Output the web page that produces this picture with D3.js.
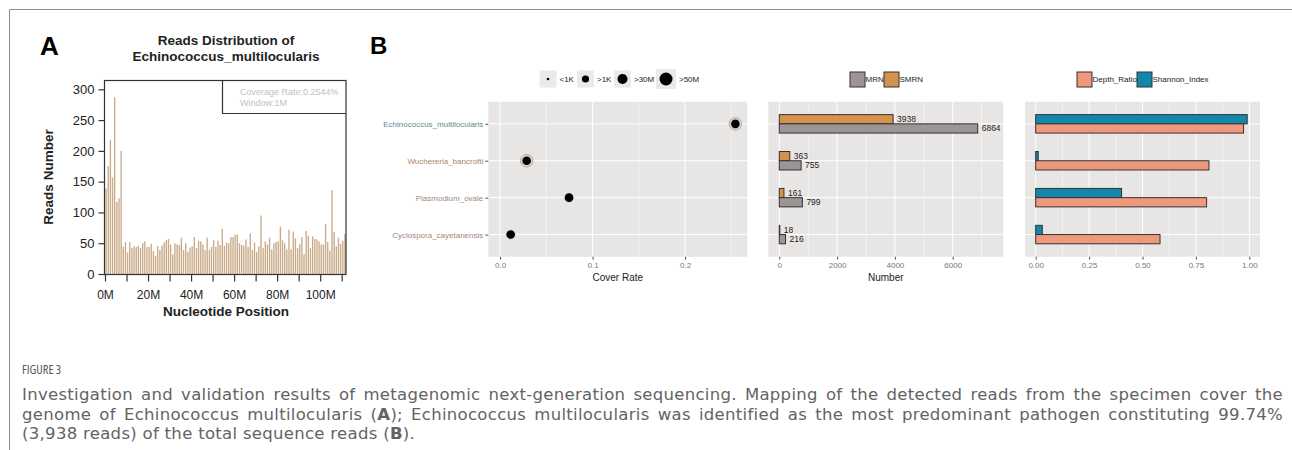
<!DOCTYPE html>
<meta charset="utf-8">
<script src="https://d3js.org/d3.v7.min.js"></script>
<style>
  body { margin: 0; background: #fff; }
  svg text { font-family: "Liberation Sans", Arial, sans-serif; }
</style>
<div id="chart"></div>
<script>

// ---------- data ----------
// panel A: reads per 1M window along the genome
const windowReads = [139,175,218,157,287,117,123,200,
  44,52,35,52,42,45,44,46,42,50,53,44,44,49,37,29,45,39,
  46,51,55,57,48,32,50,48,47,59,39,50,36,43,45,60,42,54,53,48,39,59,39,44,55,44,54,47,73,
  46,51,50,60,60,64,64,50,47,46,56,44,66,39,51,36,45,
  95,
  42,53,48,59,40,50,52,53,
  77,55,50,40,72,40,69,58,42,49,60,32,70,62,42,61,57,56,53,48,48,81,52,38,136,68,45,59,49,54,65];
const readsTicks = [0, 50, 100, 150, 200, 250, 300];
const positionTicks = [0, 10, 20, 30, 40, 50, 60, 70, 80, 90, 100, 110];
const coverageNote = ["Coverage Rate:0.2544%", "Window:1M"];

// panel B
const species = ["Echinococcus_multilocularis", "Wuchereria_bancrofti", "Plasmodium_ovale", "Cyclospora_cayetanensis"];
const speciesColor = ["#5d8c8c", "#a9876b", "#9c8a7e", "#a4887a"];
const coverRate = [0.2544, 0.0288, 0.0746, 0.0115];
const sizeLevels = ["<1K", ">1K", ">30M", ">50M"];
const mrn = [6864, 755, 799, 216];
const smrn = [3938, 363, 161, 18];
const depthRatio = [0.973, 0.811, 0.80, 0.582];
const shannonIndex = [0.99, 0.012, 0.402, 0.031];
const coverTicks = [0, 0.1, 0.2];
const numberTicks = [0, 2000, 4000, 6000];
const ratioTicks = [0, 0.25, 0.5, 0.75, 1];

const captionTitle = "FIGURE 3";
const captionLines = [
  "Investigation and validation results of metagenomic next-generation sequencing. Mapping of the detected reads from the specimen cover the",
  "genome of Echinococcus multilocularis (|A|); Echinococcus multilocularis was identified as the most predominant pathogen constituting 99.74%",
  "(3,938 reads) of the total sequence reads (|B|)."
];

// ---------- svg ----------
const svg = d3.select("#chart").append("svg")
    .attr("width", 1292).attr("height", 450);
svg.append("rect").attr("width", 1292).attr("height", 450).attr("fill", "#fff");

// figure frame
svg.append("path").attr("d", "M9.5,450V9.5H1292")
    .attr("fill", "none").attr("stroke", "#8c8c8c");

// ================= panel A =================
const xA = d3.scaleLinear().domain([0, 112]).range([105, 346]);
const yA = d3.scaleLinear().domain([0, 300]).range([274, 89.3]);

svg.append("text").attr("x", 40).attr("y", 55).text("A")
    .style("font-size", "26px").style("font-weight", "bold");

svg.append("text").attr("x", 226).attr("y", 45).attr("text-anchor", "middle")
    .style("font-size", "13.5px").style("font-weight", "bold").attr("fill", "#222")
    .text("Reads Distribution of");
svg.append("text").attr("x", 226).attr("y", 61).attr("text-anchor", "middle")
    .style("font-size", "13.5px").style("font-weight", "bold").attr("fill", "#222")
    .text("Echinococcus_multilocularis");

svg.append("g").selectAll("rect").data(windowReads).join("rect")
    .attr("x", (d, i) => xA(i) + 0.4)
    .attr("width", 1.35)
    .attr("y", d => yA(d))
    .attr("height", d => yA(0) - yA(d))
    .attr("fill", "#c9aa88");

// plot box
svg.append("rect").attr("x", 104.5).attr("y", 80.5).attr("width", 241.5).attr("height", 194)
    .attr("fill", "none").attr("stroke", "#333").attr("stroke-width", 1.2);

// legend box with coverage note
svg.append("path").attr("d", "M222.5,80.5V113.5H346")
    .attr("fill", "none").attr("stroke", "#333").attr("stroke-width", 1.2);
svg.selectAll("text.note").data(coverageNote).join("text")
    .attr("class", "note")
    .attr("x", 240).attr("y", (d, i) => 95 + i * 11)
    .style("font-size", "9px").attr("fill", "#cbbdbd")
    .text(d => d);

const yAxisA = svg.append("g").attr("transform", "translate(104.5,0)")
    .call(d3.axisLeft(yA).tickValues(readsTicks).tickSize(6).tickPadding(4));
yAxisA.select(".domain").remove();
yAxisA.selectAll("line").attr("stroke", "#333").attr("stroke-width", 1.2);
yAxisA.selectAll("text").style("font-size", "13px").attr("fill", "#222");

const xAxisA = svg.append("g").attr("transform", "translate(0,274.5)")
    .call(d3.axisBottom(xA).tickValues(positionTicks).tickSize(7).tickPadding(9)
      .tickFormat(d => d % 20 === 0 ? d + "M" : ""));
xAxisA.select(".domain").attr("d", `M${xA(0)},0H${xA(112)}`).attr("stroke", "#333").attr("stroke-width", 1.2);
xAxisA.selectAll("line").attr("stroke", "#333").attr("stroke-width", 1.2);
xAxisA.selectAll("text").style("font-size", "12px").attr("fill", "#222");

svg.append("text").attr("x", 226).attr("y", 316).attr("text-anchor", "middle")
    .style("font-size", "13.5px").style("font-weight", "bold").attr("fill", "#222")
    .text("Nucleotide Position");
svg.append("text").attr("transform", "translate(53,177) rotate(-90)").attr("text-anchor", "middle")
    .style("font-size", "13.5px").style("font-weight", "bold").attr("fill", "#222")
    .text("Reads Number");

// ================= panel B =================
svg.append("text").attr("x", 370).attr("y", 54).text("B")
    .style("font-size", "24px").style("font-weight", "bold");

const panelTop = 101.7, panelBottom = 256.7;
const yB = d3.scalePoint().domain(species).range([panelTop, panelBottom]).padding(0.6);
const barH = yB.step() * 0.25;

function panel(x, majors, minors, fmt) {
  const g = svg.append("g");
  const [x0, x1] = x.range();
  g.append("rect").attr("x", x0).attr("y", panelTop)
      .attr("width", x1 - x0).attr("height", panelBottom - panelTop).attr("fill", "#e8e6e4");
  g.selectAll("line.minor").data(minors).join("line").attr("class", "minor")
      .attr("x1", d => x(d)).attr("x2", d => x(d)).attr("y1", panelTop).attr("y2", panelBottom)
      .attr("stroke", "#fff").attr("stroke-width", 0.5);
  g.selectAll("line.major").data(majors).join("line").attr("class", "major")
      .attr("x1", d => x(d)).attr("x2", d => x(d)).attr("y1", panelTop).attr("y2", panelBottom)
      .attr("stroke", "#fff").attr("stroke-width", 1);
  g.selectAll("line.hmajor").data(species).join("line").attr("class", "hmajor")
      .attr("x1", x0).attr("x2", x1).attr("y1", d => yB(d)).attr("y2", d => yB(d))
      .attr("stroke", "#fff").attr("stroke-width", 1);
  const ax = svg.append("g").attr("transform", `translate(0,${panelBottom})`)
      .call(d3.axisBottom(x).tickValues(majors).tickSize(3).tickPadding(3).tickFormat(fmt));
  ax.select(".domain").remove();
  ax.selectAll("line").attr("stroke", "#555");
  ax.selectAll("text").style("font-size", "8px").attr("fill", "#777");
}

// --- cover rate dot plot ---
const xCover = d3.scaleLinear().domain([-0.0127, 0.2673]).range([488.3, 747.3]);
panel(xCover, coverTicks, [0.05, 0.15, 0.25], d3.format(".1f"));

const yAxisB = svg.append("g").attr("transform", `translate(${xCover.range()[0]},0)`)
    .call(d3.axisLeft(yB).tickSize(3).tickPadding(2));
yAxisB.select(".domain").remove();
yAxisB.selectAll("line").attr("stroke", "#555");
yAxisB.selectAll("text").style("font-size", "8px").attr("fill", (d, i) => speciesColor[i]);

const dots = svg.append("g");
dots.selectAll("circle.halo").data(species).join("circle").attr("class", "halo")
    .attr("cx", (d, i) => xCover(coverRate[i])).attr("cy", d => yB(d))
    .attr("r", (d, i) => i < 2 ? 6.3 : 5)
    .attr("fill", "#d9d4d0").attr("stroke", (d, i) => i < 2 ? "#a8a29d" : "none").attr("stroke-width", 0.8);
dots.selectAll("circle.dot").data(species).join("circle").attr("class", "dot")
    .attr("cx", (d, i) => xCover(coverRate[i])).attr("cy", d => yB(d))
    .attr("r", 4.3).attr("fill", "#000");

svg.append("text").attr("x", d3.mean(xCover.range())).attr("y", 281).attr("text-anchor", "middle")
    .style("font-size", "10px").attr("fill", "#222").text("Cover Rate");

// size legend
const sizeR = [1.3, 3.6, 5, 6.5];
const sizeKeyX = [548, 585.5, 622.5, 666];
const sizeLeg = svg.append("g");
sizeLevels.forEach((s, i) => {
  const k = i === 3 ? 20 : 17;
  sizeLeg.append("rect").attr("x", sizeKeyX[i] - k / 2).attr("y", 79 - k / 2)
      .attr("width", k).attr("height", k).attr("fill", "#eceae8");
  sizeLeg.append("circle").attr("cx", sizeKeyX[i]).attr("cy", 79).attr("r", sizeR[i]).attr("fill", "#000");
  sizeLeg.append("text").attr("x", sizeKeyX[i] + k / 2 + 3).attr("y", 79).attr("dy", "0.35em")
      .style("font-size", "8px").attr("fill", "#222").text(s);
});

// --- read numbers ---
const xNum = d3.scaleLinear().domain([-380, 7750]).range([768.3, 1003.3]);
panel(xNum, numberTicks, [1000, 3000, 5000, 7000], d3.format("d"));
const numColors = {MRN: "#9d9595", SMRN: "#d4924c"};

function dodgedBars(x, top, bottom, cTop, cBottom, labels) {
  const g = svg.append("g");
  g.selectAll("rect.top").data(top).join("rect").attr("class", "top")
      .attr("x", x(0)).attr("y", (d, i) => yB(species[i]) - barH)
      .attr("width", d => x(d) - x(0)).attr("height", barH)
      .attr("fill", cTop).attr("stroke", "#333").attr("stroke-width", 1);
  g.selectAll("rect.bot").data(bottom).join("rect").attr("class", "bot")
      .attr("x", x(0)).attr("y", (d, i) => yB(species[i]))
      .attr("width", d => x(d) - x(0)).attr("height", barH)
      .attr("fill", cBottom).attr("stroke", "#333").attr("stroke-width", 1);
  if (labels) {
    g.selectAll("text.top").data(top).join("text").attr("class", "top")
        .attr("x", d => x(d) + 4).attr("y", (d, i) => yB(species[i]) - barH / 2)
        .attr("dy", "0.35em").style("font-size", "8.5px").attr("fill", "#222").text(d => d);
    g.selectAll("text.bot").data(bottom).join("text").attr("class", "bot")
        .attr("x", d => x(d) + 4).attr("y", (d, i) => yB(species[i]) + barH / 2)
        .attr("dy", "0.35em").style("font-size", "8.5px").attr("fill", "#222").text(d => d);
  }
}
dodgedBars(xNum, smrn, mrn, numColors.SMRN, numColors.MRN, true);

svg.append("text").attr("x", d3.mean(xNum.range())).attr("y", 281).attr("text-anchor", "middle")
    .style("font-size", "10px").attr("fill", "#222").text("Number");

function keyLegend(items, xs) {
  items.forEach((it, i) => {
    svg.append("rect").attr("x", xs[i]).attr("y", 72).attr("width", 15).attr("height", 15)
        .attr("fill", it[1]).attr("stroke", "#333").attr("stroke-width", 1);
    svg.append("text").attr("x", xs[i] + 15.5).attr("y", 79.5).attr("dy", "0.35em")
        .style("font-size", "8px").attr("fill", "#222").text(it[0]);
  });
}
keyLegend([["MRN", numColors.MRN], ["SMRN", numColors.SMRN]], [850, 884]);

// --- ratios ---
const xRat = d3.scaleLinear().domain([-0.05, 1.05]).range([1025, 1260]);
panel(xRat, ratioTicks, [0.125, 0.375, 0.625, 0.875], d3.format(".2f"));
const ratColors = {Depth_Ratio: "#f0987b", Shannon_Index: "#1188ab"};
dodgedBars(xRat, shannonIndex, depthRatio, ratColors.Shannon_Index, ratColors.Depth_Ratio, false);
keyLegend([["Depth_Ratio", ratColors.Depth_Ratio], ["Shannon_Index", ratColors.Shannon_Index]], [1077, 1137]);

// ================= caption =================
const cap = svg.append("g");
cap.append("text").attr("x", 22).attr("y", 374).style("font-size", "12.5px").attr("fill", "#555")
    .style("font-family", "'Open Sans', sans-serif").style("font-stretch", "semi-condensed").text(captionTitle);

captionLines.forEach((line, li) => {
  const t = cap.append("text").attr("x", 22).attr("y", 400 + li * 19.5)
      .style("font-size", "16.5px").attr("fill", "#636363")
      .style("font-family", "'DejaVu Sans', sans-serif")
      .style("letter-spacing", "0.3px");
  line.split("|").forEach((part, pi) => {
    t.append("tspan").text(part).style("font-weight", pi % 2 ? "bold" : null);
  });
  if (li < captionLines.length - 1) {
    // justify the line by widening the word gaps
    const plain = line.replace(/\|/g, "");
    const spaces = plain.split(" ").length - 1;
    const w = t.node().getComputedTextLength();
    t.style("word-spacing", Math.max(0, (1283 - 22 - w) / spaces) + "px");
  }
});
</script>
